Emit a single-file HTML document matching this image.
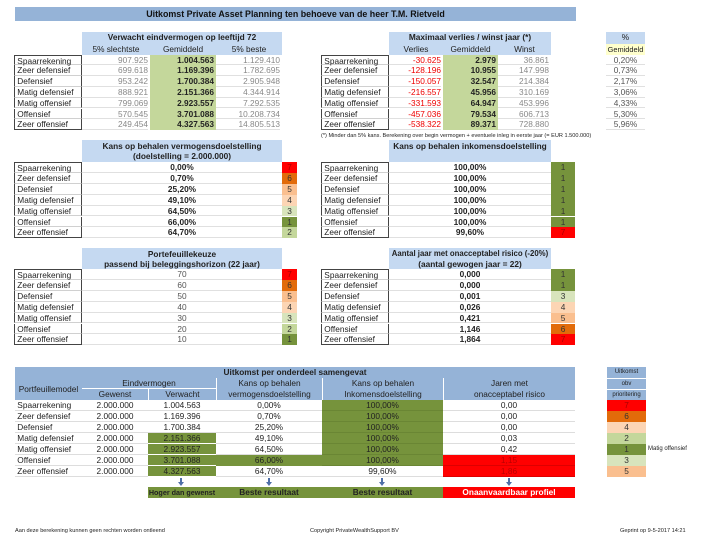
<!DOCTYPE html>
<html><head><meta charset="utf-8"><style>
body{margin:0;width:710px;height:540px;background:#fff;position:relative;overflow:hidden;font-family:"Liberation Sans",sans-serif;font-size:8.3px;color:#222}
.c{position:absolute;box-sizing:border-box;white-space:nowrap;overflow:visible;line-height:1}
</style></head><body>
<script>
function C(x,y,w,h,t,s){var d=document.createElement('div');d.className='c';d.style.cssText='left:'+x+'px;top:'+y+'px;width:'+w+'px;height:'+h+'px;line-height:'+h+'px;'+(s||'');d.innerHTML=t;document.body.appendChild(d);}
var L=['Spaarrekening','Zeer defensief','Defensief','Matig defensief','Matig offensief','Offensief','Zeer offensief'];
var HB='background:#c5d9f1;text-align:center;';
var BC={7:'#ff0000',6:'#e26b0a',5:'#fabf8f',4:'#fcd5b4',3:'#d8e4bc',2:'#c4d79b',1:'#76933c'};
function labels(x,y,w,rh){for(var i=0;i<7;i++){C(x,y+i*rh,w,rh,'&nbsp;'+L[i],'line-height:'+(rh-0.5)+'px;border-left:1px solid #444;border-right:1px solid #444;border-bottom:1px solid '+(i==6?'#444':'#d0d0d0')+';'+(i==0?'border-top:1px solid #444;':''));}}
function col(x,y,w,rh,vals,s,sep){for(var i=0;i<7;i++){C(x,y+i*rh,w,rh,vals[i],(s||'')+(sep?'border-bottom:1px solid #e0e0e0;':''));}}
function badges(x,y,w,rh,v){for(var i=0;i<7;i++){C(x,y+i*rh,w,rh,v[i],'background:'+BC[v[i]]+';text-align:center;color:'+(v[i]==7?'#a00':'#333')+';');}}
C(15,7,561,14,'Uitkomst Private Asset Planning ten behoeve van de heer T.M. Rietveld','background:#95b3d7;text-align:center;font-weight:bold;font-size:8.9px;color:#111;');
var rh=10.8,y0=54.5;
C(82,32,200,11.5,'Verwacht eindvermogen op leeftijd 72',HB+'font-weight:bold;');
C(82,43.5,68,11,'5% slechtste',HB);C(150,43.5,66,11,'Gemiddeld',HB);C(216,43.5,66,11,'5% beste',HB);
labels(14,y0,68,rh);
col(82,y0,66,rh,['907.925','699.618','953.242','888.921','799.069','570.545','249.454'],'text-align:right;color:#888;',1);
C(150,y0,66,rh*7,'','background:#c4d79b;');
col(150,y0,64,rh,['1.004.563','1.169.396','1.700.384','2.151.366','2.923.557','3.701.088','4.327.563'],'text-align:right;font-weight:bold;');
col(216,y0,64,rh,['1.129.410','1.782.695','2.905.948','4.344.914','7.292.535','10.208.734','14.805.513'],'text-align:right;color:#888;',1);
C(389,32,162,11.5,'Maximaal verlies / winst jaar (*)',HB+'font-weight:bold;');
C(389,43.5,54,11,'Verlies',HB);C(443,43.5,55,11,'Gemiddeld',HB);C(498,43.5,53,11,'Winst',HB);
labels(321,y0,68,rh);
col(389,y0,52,rh,['-30.625','-128.196','-150.057','-216.557','-331.593','-457.036','-538.322'],'text-align:right;color:#e00;',1);
C(443,y0,55,rh*7,'','background:#c4d79b;');
col(443,y0,53,rh,['2.979','10.955','32.547','45.956','64.947','79.534','89.371'],'text-align:right;font-weight:bold;');
col(498,y0,51,rh,['36.861','147.998','214.384','310.169','453.996','606.713','728.880'],'text-align:right;color:#888;',1);
C(321,132,300,9,'(*) Minder dan 5% kans. Berekening over begin vermogen + eventuele inleg in eerste jaar (= EUR 1.500.000)','font-size:5.6px;');
C(606,32,39,11.5,'%',HB);C(606,43.5,39,11,'Gemiddeld','background:#ffffcc;text-align:center;font-size:7.4px;');
col(606,y0,39,rh,['0,20%','0,73%','2,17%','3,06%','4,33%','5,30%','5,96%'],'text-align:center;color:#555;',1);
var y1=162,rm=10.9;
C(82,140,200,22,'','background:#c5d9f1;');
C(82,141,200,10,'Kans op behalen vermogensdoelstelling','text-align:center;font-weight:bold;');
C(82,151,200,10,'(doelstelling = 2.000.000)','text-align:center;font-weight:bold;');
labels(14,y1,68,rm);
col(82,y1,200,rm,['0,00%','0,70%','25,20%','49,10%','64,50%','66,00%','64,70%'],'text-align:center;font-weight:bold;',1);
badges(282,y1,15,rm,[7,6,5,4,3,1,2]);
C(389,140,162,22,'','background:#c5d9f1;');
C(389,141,162,10,'Kans op behalen inkomensdoelstelling','text-align:center;font-weight:bold;');
labels(321,y1,68,rm);
col(389,y1,162,rm,['100,00%','100,00%','100,00%','100,00%','100,00%','100,00%','99,60%'],'text-align:center;font-weight:bold;',1);
badges(551,y1,24,rm,[1,1,1,1,1,1,7]);
var y2=269;
C(82,248,200,21,'','background:#c5d9f1;');
C(82,249,200,10,'Portefeuillekeuze','text-align:center;font-weight:bold;');
C(82,259,200,10,'passend bij beleggingshorizon (22 jaar)','text-align:center;font-weight:bold;');
labels(14,y2,68,rm);
col(82,y2,200,rm,['70','60','50','40','30','20','10'],'text-align:center;color:#555;',1);
badges(282,y2,15,rm,[7,6,5,4,3,2,1]);
C(389,248,162,21,'','background:#c5d9f1;');
C(389,249,162,10,'Aantal jaar met onacceptabel risico (-20%)','text-align:center;font-weight:bold;font-size:7.8px;');
C(389,259,162,10,'(aantal gewogen jaar = 22)','text-align:center;font-weight:bold;');
labels(321,y2,68,rm);
col(389,y2,162,rm,['0,000','0,000','0,001','0,026','0,421','1,146','1,864'],'text-align:center;font-weight:bold;',1);
badges(551,y2,24,rm,[1,1,3,4,5,6,7]);
var HB2='background:#95b3d7;text-align:center;';
C(15,367,560,11,'Uitkomst per onderdeel samengevat',HB2+'font-weight:bold;');
C(15,378,560,22,'','background:#95b3d7;');
C(15,378,67,22,'Portfeuillemodel','text-align:center;');
C(82,378,134,11,'Eindvermogen','text-align:center;border-bottom:1px solid #fff;');
C(82,389,66,11,'Gewenst','text-align:center;');C(148,389,68,11,'Verwacht','text-align:center;border-left:1px solid #fff;');
C(216,378,106,11,'Kans op behalen','text-align:center;border-left:1px solid #fff;');C(216,389,106,11,'vermogensdoelstelling','text-align:center;border-left:1px solid #fff;');
C(322,378,121,11,'Kans op behalen','text-align:center;border-left:1px solid #fff;');C(322,389,121,11,'Inkomensdoelstelling','text-align:center;border-left:1px solid #fff;');
C(443,378,132,11,'Jaren met','text-align:center;border-left:1px solid #fff;');C(443,389,132,11,'onacceptabel risico','text-align:center;border-left:1px solid #fff;');
var y3=400,rb=11;
for(var i=0;i<7;i++){C(15,y3+i*rb,560,rb,'','border-bottom:1px solid #ddd;');C(15,y3+i*rb,67,rb,'&nbsp;'+L[i],'');}
col(82,y3,66,rb,['2.000.000','2.000.000','2.000.000','2.000.000','2.000.000','2.000.000','2.000.000'],'text-align:center;');
var G='#76933c';
var vv=['1.004.563','1.169.396','1.700.384','2.151.366','2.923.557','3.701.088','4.327.563'];
for(i=0;i<7;i++)C(148,y3+i*rb,68,rb,vv[i],'text-align:center;'+(i>=3?'background:'+G+';border-bottom:1px solid #fff;':''));
var kv=['0,00%','0,70%','25,20%','49,10%','64,50%','66,00%','64,70%'];
for(i=0;i<7;i++)C(216,y3+i*rb,106,rb,kv[i],'text-align:center;'+(i==5?'background:'+G+';':''));
var ki=['100,00%','100,00%','100,00%','100,00%','100,00%','100,00%','99,60%'];
for(i=0;i<7;i++)C(322,y3+i*rb,121,rb,ki[i],'text-align:center;'+(i<6?'background:'+G+';border-bottom:1px solid #6a8634;':''));
var jr=['0,00','0,00','0,00','0,03','0,42','1,15','1,86'];
for(i=0;i<7;i++)C(443,y3+i*rb,132,rb,jr[i],'text-align:center;'+(i>=5?'background:#ff0000;color:#b00;border-bottom:1px solid #d00;':''));
C(607,367,39,11,'Uitkomst',HB2+'font-size:6px;');C(607,378,39,11,'obv',HB2+'font-size:6px;border-top:1px solid #fff;');C(607,389,39,11,'prioritering',HB2+'font-size:6px;border-top:1px solid #fff;');
badges(607,y3,39,rb,[7,6,4,2,1,3,5]);
C(648,y3+4*rb,60,rb,'Matig offensief','font-size:6px;');
[181,269,382,509].forEach(function(x){C(x-3,478,6,8,'<svg width="6" height="8"><rect x="2" y="0" width="2" height="4" fill="#4f6fa8"/><polygon points="0,4 6,4 3,8" fill="#4f6fa8"/></svg>','line-height:0;');});
C(148,487,68,11,'Hoger dan gewenst','background:'+G+';text-align:center;font-weight:bold;font-size:7.2px;');
C(216,487,106,11,'Beste resultaat','background:'+G+';text-align:center;font-weight:bold;');
C(322,487,121,11,'Beste resultaat','background:'+G+';text-align:center;font-weight:bold;');
C(443,487,132,11,'Onaanvaardbaar profiel','background:#ff0000;text-align:center;font-weight:bold;color:#fff;');
C(15,526,200,10,'Aan deze berekening kunnen geen rechten worden ontleend','font-size:5.6px;');
C(310,526,200,10,'Copyright PrivateWealthSupport BV','font-size:5.6px;');
C(620,526,90,10,'Geprint op 9-5-2017 14:21','font-size:5.6px;');
</script>
</body></html>
